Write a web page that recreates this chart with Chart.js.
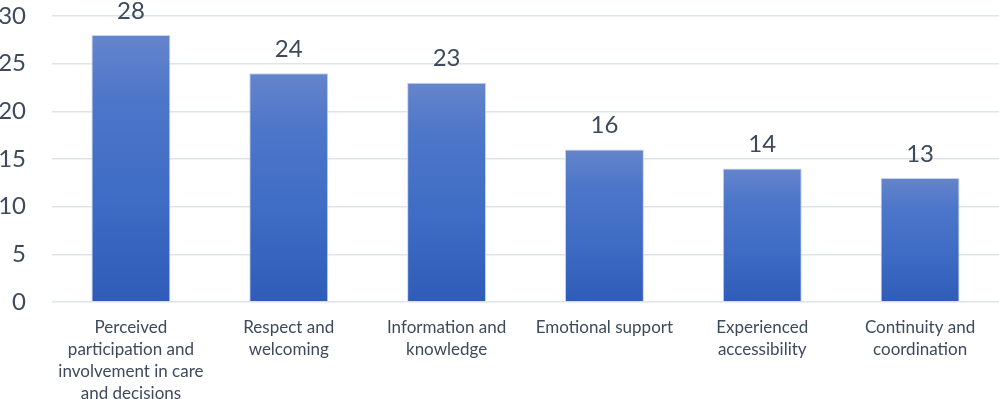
<!DOCTYPE html>
<html>
<head>
<meta charset="utf-8">
<script src="https://cdn.jsdelivr.net/npm/chart.js@4"></script>
<style>
  html, body { margin: 0; padding: 0; background: #fff; }
  #wrap { width: 999px; height: 399px; }
</style>
</head>
<body>
<div id="wrap"><canvas id="barChart" width="999" height="399"></canvas></div>
<script>
const categories = [
    ['Perceived', 'participation and', 'involvement in care', 'and decisions'],
    ['Respect and', 'welcoming'],
    ['Information and', 'knowledge'],
    ['Emotional support'],
    ['Experienced', 'accessibility'],
    ['Continuity and', 'coordination']
];
const counts = [28, 24, 23, 16, 14, 13];
const yTicks = [0, 5, 10, 15, 20, 25, 30];

const textColor = '#3e4a5c';
const fontFamily = 'Lato, "Open Sans", sans-serif';

// each bar gets its own gradient, light at the top, darker at the base
function barFill(context) {
    const chart = context.chart;
    const yScale = chart.scales.y;
    if (!chart.chartArea || !yScale) return '#4270c6';
    const top = yScale.getPixelForValue(counts[context.dataIndex]);
    const base = yScale.getPixelForValue(0);
    const g = chart.ctx.createLinearGradient(0, top, 0, base);
    g.addColorStop(0, '#6584cb');
    g.addColorStop(0.25, '#4c76c9');
    g.addColorStop(0.6, '#3f6cc4');
    g.addColorStop(1, '#2e5cb8');
    return g;
}

// value labels above the bars
const valueLabels = {
    id: 'valueLabels',
    afterDatasetsDraw(chart) {
        const ctx = chart.ctx;
        ctx.save();
        ctx.font = '24px ' + fontFamily;
        ctx.fillStyle = textColor;
        ctx.textAlign = 'center';
        ctx.textBaseline = 'middle';
        chart.getDatasetMeta(0).data.forEach((bar, i) => {
            ctx.fillText(counts[i], bar.x, bar.y - 24);
        });
        ctx.restore();
    }
};

new Chart(document.getElementById('barChart').getContext('2d'), {
    type: 'bar',
    data: {
        labels: categories,
        datasets: [{
            data: counts,
            backgroundColor: barFill,
            borderColor: '#c7d4ee',
            borderWidth: 1,
            categoryPercentage: 1,
            barPercentage: 0.5
        }]
    },
    options: {
        responsive: false,
        animation: false,
        layout: { padding: { top: 16, right: 0, left: 0, bottom: 0 } },
        plugins: {
            legend: { display: false },
            tooltip: { enabled: false }
        },
        scales: {
            x: {
                grid: { display: false },
                border: { display: false },
                ticks: {
                    color: textColor,
                    font: { family: fontFamily, size: 17, lineHeight: 1.3 },
                    padding: 6,
                    maxRotation: 0,
                    autoSkip: false
                },
                afterFit(scale) {
                    scale.height = 97;
                    scale.paddingTop = 0;
                    scale.paddingBottom = 0;
                }
            },
            y: {
                min: 0,
                max: 30,
                afterBuildTicks(scale) {
                    scale.ticks = yTicks.map(v => ({ value: v }));
                },
                grid: { color: '#dfe4ec', lineWidth: 1.5, drawTicks: false },
                border: { display: false },
                ticks: {
                    color: textColor,
                    font: { family: fontFamily, size: 24 },
                    padding: 26
                },
                afterFit(scale) {
                    scale.width = 52;
                    scale.paddingTop = 0;
                    scale.paddingBottom = 0;
                }
            }
        }
    },
    plugins: [valueLabels]
});
</script>
</body>
</html>
